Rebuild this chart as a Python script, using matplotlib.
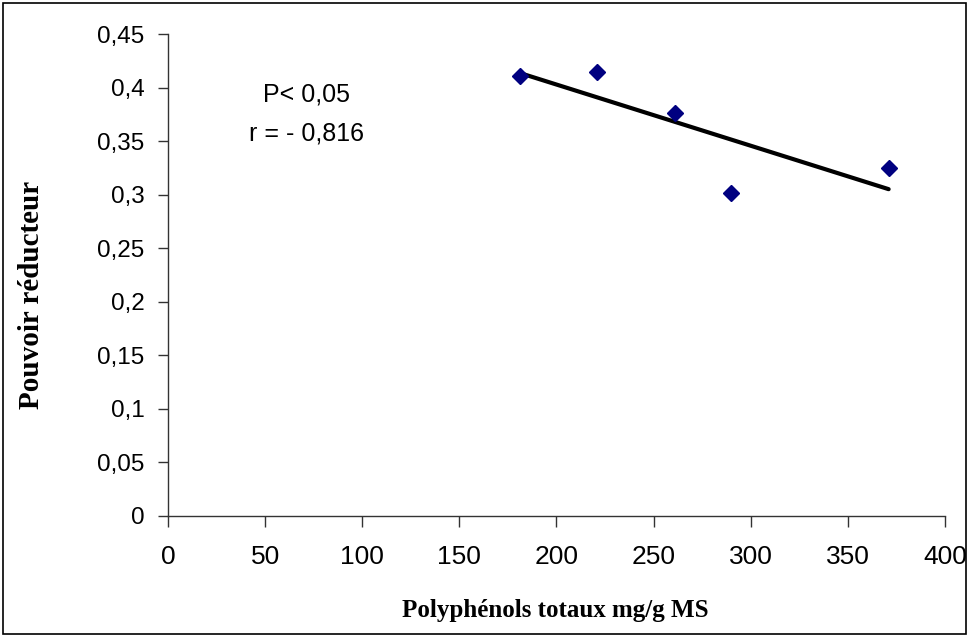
import numpy as np
import matplotlib.pyplot as plt
from matplotlib.patches import Rectangle


POLYPHENOLS=[181,221,261,290,371]
POUVOIR=[0.411,0.415,0.376,0.302,0.325]

X_TICKS=list(range(0,401,50))
Y_TICKS=[0,0.05,0.1,0.15,0.2,0.25,0.3,0.35,0.4,0.45]
Y_LABELS=["0","0,05","0,1","0,15","0,2","0,25","0,3","0,35","0,4","0,45"]


fig=plt.figure(figsize=(9.7,6.37),dpi=100)
ax=fig.add_axes([0.1732,0.19,0.801,0.7566])
fig.patches.append(Rectangle((0.003,0.004),0.993,0.991,transform=fig.transFigure,fill=False,edgecolor="black",linewidth=1.2))

slope,intercept=np.polyfit(POLYPHENOLS,POUVOIR,1)
xl=np.array([min(POLYPHENOLS),max(POLYPHENOLS)])
ax.plot(xl,slope*xl+intercept,"-",color="black",linewidth=3,solid_capstyle="round",zorder=2)
ax.plot(POLYPHENOLS,POUVOIR,"D",color="#000080",markersize=8,linestyle="none",zorder=3)

ax.set_xlim(0,400)
ax.set_ylim(0,0.45)
ax.set_xticks(X_TICKS)
ax.set_xticklabels([str(v) for v in X_TICKS],fontsize=19,family="Liberation Sans")
ax.set_yticks(Y_TICKS)
ax.set_yticklabels(Y_LABELS,fontsize=17.5,family="Liberation Sans")
ax.tick_params(axis="x",direction="out",length=8,width=1,pad=13,color="#333333")
ax.tick_params(axis="y",direction="out",length=7,width=1,pad=10,color="#333333")
for s in ["top","right"]:
	ax.spines[s].set_visible(False)
for s in ["left","bottom"]:
	ax.spines[s].set_color("#333333")
	ax.spines[s].set_linewidth(1)

ax.text(71.5,0.3753,"P< 0,05\nr = - 0,816",ha="center",va="center",fontsize=18,family="Liberation Sans",linespacing=1.8)

fig.text(0.572,0.042,"Polyphénols totaux mg/g MS",ha="center",va="center",fontsize=18,fontweight="bold",family="Liberation Serif")
fig.text(0.032,0.537,"Pouvoir réducteur",ha="center",va="center",rotation=90,fontsize=21,fontweight="bold",family="Liberation Serif")

fig.savefig("out.png",dpi=100)
